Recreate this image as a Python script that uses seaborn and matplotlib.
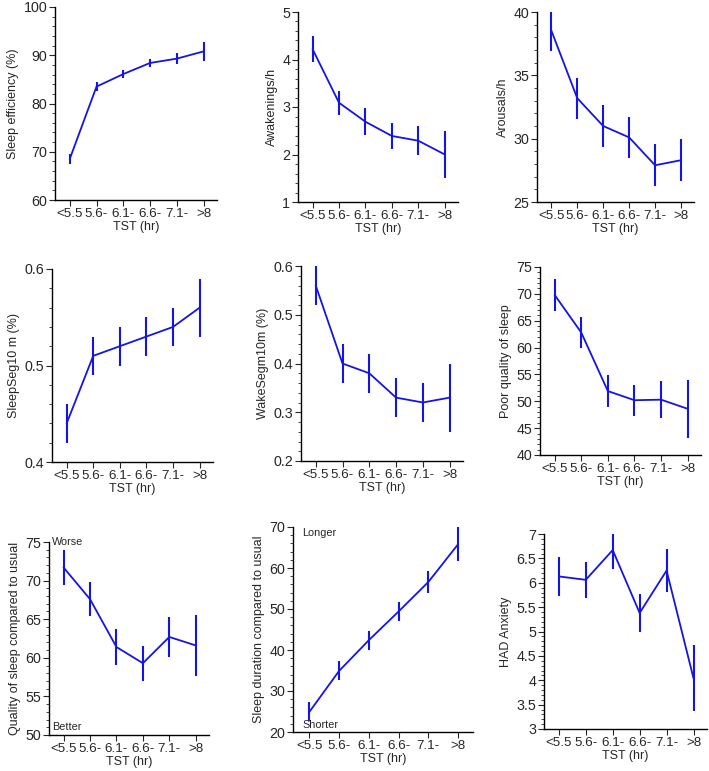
import numpy as np
import pandas as pd
import matplotlib
matplotlib.use('Agg')
import matplotlib.pyplot as plt
from matplotlib.ticker import AutoMinorLocator, MultipleLocator
import seaborn as sns

tst = ['<5.5', '5.6-', '6.1-', '6.6-', '7.1-', '>8']

sleep_eff = [68.5, 83.5, 86.1, 88.4, 89.3, 90.8]
sleep_eff_err = [1.0, 0.9, 0.85, 0.9, 1.2, 1.9]
awak = [4.22, 3.09, 2.69, 2.39, 2.29, 2.0]
awak_err = [0.27, 0.25, 0.28, 0.28, 0.31, 0.49]
arous = [38.55, 33.2, 31.0, 30.1, 27.9, 28.3]
arous_err = [1.64, 1.62, 1.64, 1.65, 1.64, 1.64]
sleepseg = [0.44, 0.51, 0.52, 0.53, 0.54, 0.56]
sleepseg_err = [0.02, 0.02, 0.02, 0.02, 0.02, 0.03]
wakeseg = [0.56, 0.40, 0.38, 0.33, 0.32, 0.33]
wakeseg_err = [0.04, 0.04, 0.04, 0.04, 0.04, 0.07]
poorq = [69.8, 62.8, 51.9, 50.2, 50.3, 48.6]
poorq_err = [3.0, 2.85, 3.0, 2.9, 3.4, 5.4]
qual_comp = [71.7, 67.6, 61.4, 59.3, 62.7, 61.6]
qual_comp_err = [2.3, 2.2, 2.3, 2.25, 2.6, 3.95]
dur_comp = [24.9, 34.9, 42.4, 49.4, 56.6, 65.8]
dur_comp_err = [2.3, 2.3, 2.3, 2.3, 2.7, 4.1]
had = [6.13, 6.06, 6.67, 5.38, 6.25, 4.04]
had_err = [0.4, 0.37, 0.39, 0.39, 0.44, 0.68]

sns.set_theme(style='ticks')
plt.rcParams['font.family'] = ['Liberation Sans', 'DejaVu Sans']

W, H = 709, 771
fig = plt.figure(figsize=(W / 100, H / 100), dpi=100)

# (values, errors, ylabel, ylim, major step, pixel box: left, right, top, bottom)
panels = [
    (sleep_eff, sleep_eff_err, 'Sleep efficiency (%)', (60, 100), 10, (55, 217, 7, 200)),
    (awak, awak_err, 'Awakenings/h', (1, 5), 1, (298, 458, 12, 202)),
    (arous, arous_err, 'Arousals/h', (25, 40), 5, (537, 694, 12, 202)),
    (sleepseg, sleepseg_err, 'SleepSeg10 m (%)', (0.4, 0.6), 0.1, (52, 213, 269, 462)),
    (wakeseg, wakeseg_err, 'WakeSegm10m (%)', (0.2, 0.6), 0.1, (301, 463, 266, 461)),
    (poorq, poorq_err, 'Poor quality of sleep', (40, 75), 5, (540, 701, 267, 455)),
    (qual_comp, qual_comp_err, 'Quality of sleep compared to usual', (50, 75), 5, (49, 209, 542, 735)),
    (dur_comp, dur_comp_err, 'Sleep duration compared to usual', (20, 70), 10, (293, 473, 527, 732)),
    (had, had_err, 'HAD Anxiety', (3, 7), 0.5, (544, 707, 534, 729)),
]

blue = '#1414e6'
axes = []
for vals, errs, ylab, ylim, step, (l, r, t, b) in panels:
    ax = fig.add_axes([l / W, 1 - b / H, (r - l) / W, (b - t) / H])
    df = pd.DataFrame({'TST': tst, 'val': vals, 'err': errs})
    sns.lineplot(data=df, x='TST', y='val', ax=ax, color=blue, lw=1.3, sort=False)
    ax.errorbar(df['TST'], df['val'], yerr=df['err'], fmt='none',
                ecolor=blue, elinewidth=1.5, capsize=0)
    ax.set_xlim(-0.55, 5.5)
    ax.set_ylim(*ylim)
    ax.yaxis.set_major_locator(MultipleLocator(step))
    ax.yaxis.set_minor_locator(AutoMinorLocator(5))
    ax.set_ylabel(ylab, fontsize=9, labelpad=3)
    ax.set_xlabel('TST (hr)', fontsize=9, labelpad=1)
    ax.tick_params(axis='y', which='major', labelsize=10.3, length=4, width=0.8, pad=1.5)
    ax.tick_params(axis='x', which='major', labelsize=9.6, length=4, width=0.8, pad=1.5)
    ax.tick_params(axis='y', which='minor', length=2, width=0.6)
    for s in ['top', 'right']:
        ax.spines[s].set_visible(False)
    for s in ['left', 'bottom']:
        ax.spines[s].set_linewidth(1.0)
        ax.spines[s].set_color('black')
    axes.append(ax)

axes[0].yaxis.set_major_formatter(matplotlib.ticker.FormatStrFormatter('%d'))
axes[8].yaxis.set_major_formatter(matplotlib.ticker.FuncFormatter(lambda v, p: ('%g' % v)))

axes[6].text(0.02, 1.0, 'Worse', transform=axes[6].transAxes, fontsize=7.8, va='center', ha='left')
axes[6].text(0.02, 0.04, 'Better', transform=axes[6].transAxes, fontsize=7.8, va='center', ha='left')
axes[7].text(0.05, 0.97, 'Longer', transform=axes[7].transAxes, fontsize=7.8, va='center', ha='left')
axes[7].text(0.05, 0.035, 'Shorter', transform=axes[7].transAxes, fontsize=7.8, va='center', ha='left')

fig.savefig('out.png', dpi=100, facecolor='white')
